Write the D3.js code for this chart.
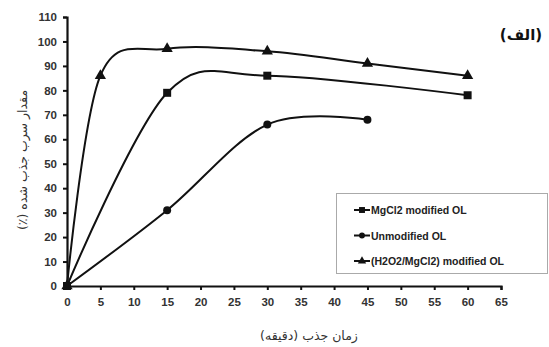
<!DOCTYPE html>
<html><head><meta charset="utf-8">
<script src="https://cdn.jsdelivr.net/npm/d3@7"></script>
<style>body{margin:0;background:#fff}svg{display:block}</style>
</head><body>
<svg id="c" width="549" height="347"></svg>
<script>
const xTicks = [0,5,10,15,20,25,30,35,40,45,50,55,60,65];
const yTicks = [0,10,20,30,40,50,60,70,80,90,100,110];
const mgX = [0,15,30,60], mgY = [0,79,86,78];
const unX = [0,15,30,45], unY = [0,31,66,68];
const hX = [0,5,15,30,45,60], hY = [0,86,97,96,91,86];
const names = ["MgCl2 modified OL","Unmodified OL","(H2O2/MgCl2) modified OL"];

const svg = d3.select("#c");
const x = d3.scaleLinear().domain([0,65]).range([67,501]);
const y = d3.scaleLinear().domain([0,110]).range([286,17]);
const font = "'Liberation Sans', Arial, sans-serif";

const line = d3.line().x(d=>x(d[0])).y(d=>y(d[1])).curve(d3.curveCardinal.tension(0));
const series = [
  {pts: mgX.map((v,i)=>[v,mgY[i]]), sym: d3.symbolSquare, size: 64},
  {pts: unX.map((v,i)=>[v,unY[i]]), sym: d3.symbolCircle, size: 50},
  {pts: hX.map((v,i)=>[v,hY[i]]), sym: d3.symbolTriangle, size: 55}
];
series.forEach(s=>{
  svg.append("path").attr("d", line(s.pts)).attr("fill","none").attr("stroke","#111").attr("stroke-width",2);
});
series.forEach(s=>{
  svg.selectAll(null).data(s.pts).enter().append("path")
    .attr("d", d3.symbol().type(s.sym).size(s.size))
    .attr("transform", d=>`translate(${x(d[0])},${y(d[1])})`)
    .attr("fill","#111");
});

const xa = svg.append("g").attr("transform","translate(0,286)")
  .call(d3.axisBottom(x).tickValues(xTicks).tickSize(4).tickPadding(8).tickFormat(d3.format("d")));
const ya = svg.append("g").attr("transform","translate(67,0)")
  .call(d3.axisLeft(y).tickValues(yTicks).tickSize(4).tickPadding(6).tickFormat(d3.format("d")));
[xa,ya].forEach(a=>{
  a.select(".domain").attr("stroke","#111").attr("stroke-width",2.2);
  a.selectAll(".tick line").attr("stroke","#111").attr("stroke-width",2);
  a.selectAll(".tick text").attr("font-family",font).attr("font-size",11.5).attr("font-weight","bold").attr("fill","#333");
});

// legend
svg.append("rect").attr("x",336.5).attr("y",193.5).attr("width",211).attr("height",80)
  .attr("fill","#fff").attr("stroke","#aaa").attr("stroke-width",1);
series.forEach((s,i)=>{
  const ly = 210 + i*25.5;
  svg.append("line").attr("x1",354).attr("x2",370).attr("y1",ly).attr("y2",ly).attr("stroke","#111").attr("stroke-width",2);
  svg.append("path").attr("d", d3.symbol().type(s.sym).size(s.size*0.55)).attr("transform",`translate(362,${ly})`).attr("fill","#111");
  svg.append("text").attr("x",371).attr("y",ly+4).text(names[i])
    .attr("font-family",font).attr("font-size",10.5).attr("font-weight","bold").attr("fill","#222");
});

svg.append("text").attr("x",309).attr("y",340).attr("text-anchor","middle")
  .attr("font-family","'DejaVu Sans', sans-serif").attr("font-size",12.5).attr("fill","#333")
  .attr("direction","rtl").text("زمان جذب (دقیقه)");
svg.append("text").attr("transform","translate(27,160) rotate(-90)").attr("text-anchor","middle")
  .attr("font-family","'DejaVu Sans', sans-serif").attr("font-size",12.5).attr("fill","#333")
  .attr("direction","rtl").text("مقدار سرب جذب شده (٪)");
svg.append("text").attr("x",521).attr("y",40).attr("text-anchor","middle")
  .attr("font-family","'DejaVu Sans', sans-serif").attr("font-size",15).attr("font-weight","bold").attr("fill","#111")
  .attr("direction","rtl").text("(الف)");
</script>
</body></html>
